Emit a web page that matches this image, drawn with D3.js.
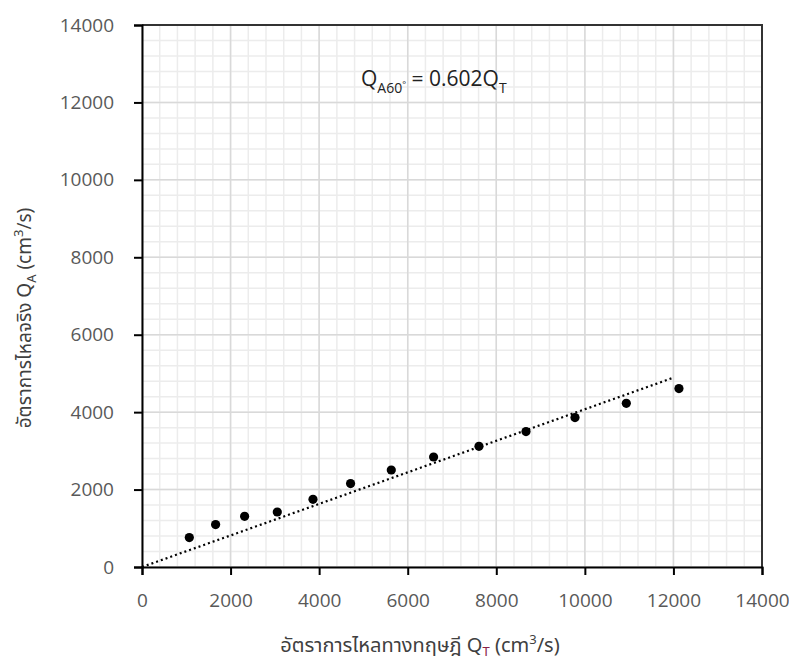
<!DOCTYPE html>
<html>
<head>
<meta charset="utf-8">
<script src="https://cdn.jsdelivr.net/npm/d3@7"></script>
<style>
  body { margin: 0; background: #fff; }
  .tick text { font-family: "Open Sans", "Noto Sans", sans-serif; font-size: 19px; fill: #595959; }
  .lbl { font-family: "Noto Sans Thai", "Leelawadee UI", Tahoma, "DejaVu Sans", "Open Sans", sans-serif; fill: #404040; }
</style>
</head>
<body>
<svg id="chart" width="789" height="664"></svg>
<script>
// ข้อมูล (cm3/s)
var qt = [1068, 1662, 2317, 3055, 3861, 4710, 5629, 6584, 7609, 8671, 9777, 10936, 12125];
var qa = [759, 1095, 1310, 1421, 1749, 2154, 2506, 2841, 3118, 3497, 3859, 4228, 4608];
// เส้นแนวโน้ม
var trendX = [0, 12000];
var trendY = [0, 4890];
var xTicks = [0, 2000, 4000, 6000, 8000, 10000, 12000, 14000];
var yTicks = [0, 2000, 4000, 6000, 8000, 10000, 12000, 14000];

var svg = d3.select("#chart");
var pLeft = 142, pTop = 25, pRight = 762, pBottom = 567;

var x = d3.scaleLinear().domain([0, 14000]).range([pLeft, pRight]);
var y = d3.scaleLinear().domain([0, 14000]).range([pBottom, pTop]);

//--grid--
var minor = d3.range(0, 14001, 400);
var g = svg.append("g");
g.selectAll(".mx").data(minor).enter().append("line")
  .attr("x1", d => x(d)).attr("x2", d => x(d)).attr("y1", pTop).attr("y2", pBottom)
  .attr("stroke", "#ececec").attr("stroke-width", 1.5);
g.selectAll(".my").data(minor).enter().append("line")
  .attr("y1", d => y(d)).attr("y2", d => y(d)).attr("x1", pLeft).attr("x2", pRight)
  .attr("stroke", "#ececec").attr("stroke-width", 1.5);
g.selectAll(".Mx").data(xTicks).enter().append("line")
  .attr("x1", d => x(d)).attr("x2", d => x(d)).attr("y1", pTop).attr("y2", pBottom)
  .attr("stroke", "#d9d9d9").attr("stroke-width", 1.5);
g.selectAll(".My").data(yTicks).enter().append("line")
  .attr("y1", d => y(d)).attr("y2", d => y(d)).attr("x1", pLeft).attr("x2", pRight)
  .attr("stroke", "#d9d9d9").attr("stroke-width", 1.5);

// top + right border
svg.append("path")
  .attr("d", "M" + pLeft + "," + pTop + "H" + pRight + "V" + pBottom)
  .attr("fill", "none").attr("stroke", "#333").attr("stroke-width", 2);

//--axes--
var xAxis = svg.append("g").attr("transform", "translate(0," + pBottom + ")")
  .call(d3.axisBottom(x).tickValues(xTicks).tickSize(8).tickPadding(19).tickFormat(d3.format("d")));
var yAxis = svg.append("g").attr("transform", "translate(" + pLeft + ",0)")
  .call(d3.axisLeft(y).tickValues(yTicks).tickSize(8).tickPadding(20).tickFormat(d3.format("d")));
[xAxis, yAxis].forEach(function (a) {
  a.select(".domain").attr("stroke", "#000").attr("stroke-width", 2);
  a.selectAll(".tick line").attr("stroke", "#000").attr("stroke-width", 2);
});

//--trend line--
svg.append("path")
  .datum(d3.zip(trendX, trendY))
  .attr("d", d3.line().x(d => x(d[0])).y(d => y(d[1])))
  .attr("fill", "none").attr("stroke", "#000").attr("stroke-width", 2.2)
  .attr("stroke-dasharray", "2,3");

//--points--
svg.selectAll(".pt").data(d3.zip(qt, qa)).enter().append("circle")
  .attr("cx", d => x(d[0])).attr("cy", d => y(d[1])).attr("r", 4.6).attr("fill", "#000");

//--equation--
var eq = svg.append("text").attr("x", 361).attr("y", 86)
  .attr("font-family", "'Open Sans', 'Noto Sans', sans-serif").attr("font-size", 21).attr("fill", "#222")
  .attr("xml:space", "preserve");
eq.append("tspan").text("Q");
eq.append("tspan").attr("font-size", 14).attr("dy", 7).text("A60");
eq.append("tspan").attr("font-size", 9).attr("dy", -5).text("°");
eq.append("tspan").attr("dy", -2).text(" = 0.602Q");
eq.append("tspan").attr("font-size", 14).attr("dy", 7).text("T");

//--axis titles--
var xt = svg.append("text").attr("class", "lbl").attr("font-size", 20)
  .attr("x", 420).attr("y", 652).attr("text-anchor", "middle");
xt.append("tspan").text("อัตราการไหลทางทฤษฎี Q");
xt.append("tspan").attr("font-size", 13).attr("dy", 4).attr("fill", "#8b2246").text("T");
xt.append("tspan").attr("dy", -4).text(" (cm");
xt.append("tspan").attr("font-size", 13).attr("dy", -8).text("3");
xt.append("tspan").attr("dy", 8).text("/s)");

var yt = svg.append("text").attr("class", "lbl").attr("font-size", 19)
  .attr("transform", "translate(31,318) rotate(-90)").attr("text-anchor", "middle");
yt.append("tspan").text("อัตราการไหลจริง Q");
yt.append("tspan").attr("font-size", 13).attr("dy", 5).text("A");
yt.append("tspan").attr("dy", -5).text(" (cm");
yt.append("tspan").attr("font-size", 13).attr("dy", -8).text("3");
yt.append("tspan").attr("dy", 8).text("/s)");
</script>
</body>
</html>
